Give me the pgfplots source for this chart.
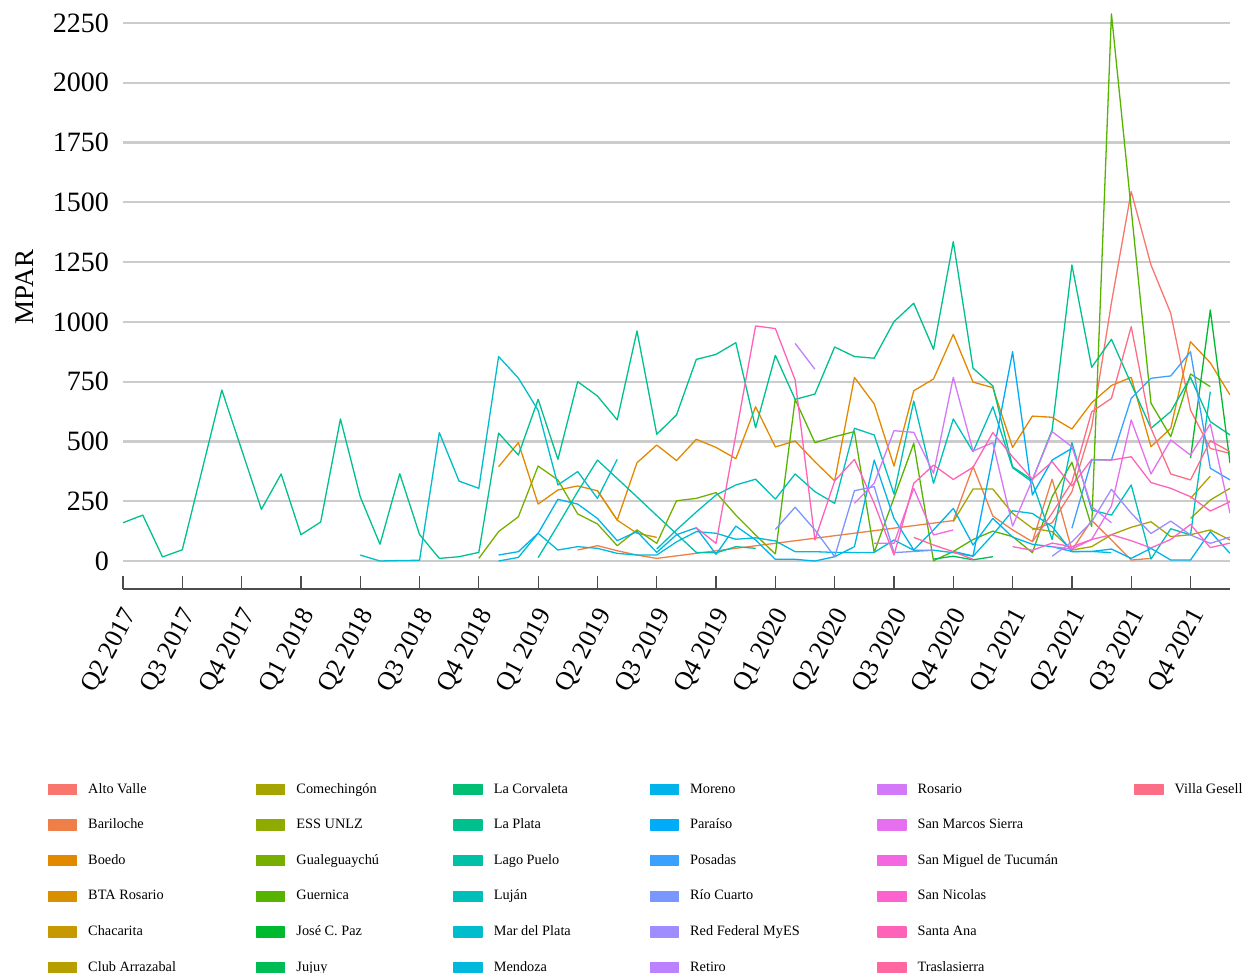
\documentclass[border=0pt]{standalone}
\usepackage{fontspec}
\setmainfont{Liberation Serif}
\usepackage{pgfplots}
\pgfplotsset{compat=1.18}
\definecolor{c0}{HTML}{F8766D}
\definecolor{c1}{HTML}{EF7F49}
\definecolor{c2}{HTML}{E38900}
\definecolor{c3}{HTML}{D89000}
\definecolor{c4}{HTML}{C69900}
\definecolor{c5}{HTML}{B79F00}
\definecolor{c6}{HTML}{A5A400}
\definecolor{c7}{HTML}{8FAA00}
\definecolor{c8}{HTML}{76AF00}
\definecolor{c9}{HTML}{56B400}
\definecolor{c10}{HTML}{00B92E}
\definecolor{c11}{HTML}{00BC55}
\definecolor{c12}{HTML}{00BE73}
\definecolor{c13}{HTML}{00C08D}
\definecolor{c14}{HTML}{00C0A6}
\definecolor{c15}{HTML}{00BFBA}
\definecolor{c16}{HTML}{00BDCC}
\definecolor{c17}{HTML}{00B9DD}
\definecolor{c18}{HTML}{00B3EB}
\definecolor{c19}{HTML}{00ABF7}
\definecolor{c20}{HTML}{3AA1FF}
\definecolor{c21}{HTML}{7997FF}
\definecolor{c22}{HTML}{9F8CFF}
\definecolor{c23}{HTML}{BC81FF}
\definecolor{c24}{HTML}{D478FA}
\definecolor{c25}{HTML}{E66FEF}
\definecolor{c26}{HTML}{F367E1}
\definecolor{c27}{HTML}{FD62CF}
\definecolor{c28}{HTML}{FF63B9}
\definecolor{c29}{HTML}{FF67A0}
\definecolor{c30}{HTML}{FB6E86}
\begin{document}
\begin{tikzpicture}
\begin{axis}[
 width=1107pt, height=578pt, scale only axis,
 xmin=0, xmax=56, ymin=-117.1, ymax=2300,
 axis x line=bottom, axis y line=left,
 axis line style={-},
 y axis line style={draw=none},
 x axis line style={draw=black!70, line width=1.2pt},
 xtick={0,3,...,54},
 xticklabels={Q2 2017,Q3 2017,Q4 2017,Q1 2018,Q2 2018,Q3 2018,Q4 2018,Q1 2019,Q2 2019,Q3 2019,Q4 2019,Q1 2020,Q2 2020,Q3 2020,Q4 2020,Q1 2021,Q2 2021,Q3 2021,Q4 2021},
 tick align=inside,
 xtick style={draw=black!70, line width=1.2pt},
 major tick length=13pt,
 ytick={0,250,...,2250},
 yticklabels={0,250,500,750,1000,1250,1500,1750,2000,2250},
 ytick style={draw=none},
 ymajorgrids,
 grid style={draw=black!20, line width=2.2pt},
 xticklabel style={font=\fontsize{26}{26}\selectfont, xshift=8pt, rotate=62, anchor=east, inner sep=0pt},
 xticklabel shift=22pt,
 yticklabel style={font=\fontsize{28}{28}\selectfont, anchor=east, inner sep=0pt},
 yticklabel shift=14pt,
 ylabel={MPAR},
 every axis y label/.style={at={(rel axis cs:-0.0885,0.5225)}, rotate=90, anchor=center, font=\fontsize{27}{27}\selectfont},
 every axis plot/.append style={line width=1.3pt, line join=round, no markers},
 legend columns=6,
 legend cell align=left,
 legend image code/.code={\fill[#1] (0pt,-5pt) rectangle (28pt,5pt);},
 legend style={at={(-0.0678,-0.3356)}, anchor=north west, draw=none, fill=none, inner sep=0pt, outer sep=0pt,
   font=\fontsize{14.3}{16}\selectfont, nodes={inner sep=0pt, text height=10pt, text depth=3pt}, row sep=22.6pt,
   /tikz/every odd column/.append style={column sep=11pt},
   /tikz/column 2/.append style={column sep=80.2pt},
   /tikz/column 4/.append style={column sep=74.4pt},
   /tikz/column 6/.append style={column sep=79pt},
   /tikz/column 8/.append style={column sep=77.5pt},
   /tikz/column 10/.append style={column sep=76.3pt}},
]
\coordinate (BL) at (rel axis cs:-0.1111,-0.6626);
\coordinate (TR) at (rel axis cs:1.0117,1.0190);
% Alto Valle
\addplot[c0, forget plot] coordinates {(46,130)(47,160)(48,290)(49,560)(50,1080)(51,1545)(52,1238)(53,1036)(54,631)(55,471)(56,450)};
% Bariloche
\addplot[c1, forget plot] coordinates {(23,46)(24,64)(25,43)(26,25)(27,11)(42,169)(43,395)(44,188)(45,130)(46,81)(47,342)(48,46)(49,170)(50,88)(51,4)(52,11)};
% Boedo
\addplot[c2, forget plot] coordinates {(19,394)(20,495)(21,238)(22,297)(23,314)(24,294)(25,171)(26,411)(27,485)(28,420)(29,509)(30,475)(31,428)(32,645)(33,477)(34,502)(35,415)(36,335)(37,768)(38,657)(39,397)(40,712)(41,761)(42,948)(43,748)(44,725)(45,475)(46,606)(47,601)(48,552)(49,662)(50,734)(51,768)(52,478)(53,555)(54,917)(55,829)(56,694)};
% BTA Rosario
\addplot[c3, forget plot] coordinates {(24,294)(25,171)(26,116)(27,99)};
% Club Arrazabal
\addplot[c5, forget plot] coordinates {(54,262)(55,355)};
% Comechingon
\addplot[c6, forget plot] coordinates {(42,165)(43,301)(44,301)(45,199)(46,137)(47,123)(48,46)(49,60)(50,110)(51,141)(52,164)(53,102)(54,110)(55,130)(56,88)};
% ESS UNLZ
\addplot[c7, forget plot] coordinates {(54,178)(55,255)(56,304)};
% Gualeguaychu
\addplot[c8, forget plot] coordinates {(18,11)(19,123)(20,185)(21,397)(22,339)(23,197)(24,155)(25,64)(26,130)(27,74)(28,252)(29,262)(30,286)(31,192)(32,109)(33,29)};
% Guernica
\addplot[c9, forget plot] coordinates {(33,29)(34,676)(35,495)(36,520)(37,541)(38,36)(39,264)(40,492)(41,1)(42,40)(43,90)(44,125)(45,102)(46,35)(47,269)(48,413)(49,144)(50,2288)(51,1470)(52,660)(53,520)(54,782)(55,729)};
% Jose C. Paz
\addplot[c10, forget plot] coordinates {(54,430)(55,1050)(56,409)};
% Jujuy
\addplot[c11, forget plot] coordinates {(41,8)(42,20)(43,5)(44,18)};
% La Plata
\addplot[c13, forget plot] coordinates {(0,160)(1,192)(2,17)(3,47)(4,380)(5,715)(6,466)(7,216)(8,364)(9,110)(10,163)(11,594)(12,269)(13,70)(14,365)(15,111)(16,11)(17,18)(18,36)(19,535)(20,443)(21,676)(22,425)(23,750)(24,690)(25,590)(26,962)(27,530)(28,611)(29,843)(30,864)(31,913)(32,557)(33,860)(34,676)(35,698)(36,895)(37,855)(38,848)(39,1001)(40,1078)(41,885)(42,1336)(43,806)(44,732)(45,394)(46,339)(47,548)(48,1238)(49,810)(50,927)(51,741)(52,555)(53,625)(54,768)(55,583)(56,527)};
% Lago Puelo
\addplot[c14, forget plot] coordinates {(21,14)(22,150)(23,290)(24,422)(25,345)(26,268)(27,190)(28,113)(29,36)(30,34)(31,60)(32,53)};
% Lujan
\addplot[c15, forget plot] coordinates {(27,50)(28,130)(29,205)(30,276)(31,318)(32,342)(33,259)(34,364)(35,290)(36,241)(37,555)(38,527)(39,280)(40,669)(41,325)(42,594)(43,457)(44,645)(45,390)(46,330)(47,90)(48,495)(49,213)(50,192)(51,318)(52,8)(53,135)(54,109)(55,708)};
% Mar del Plata
\addplot[c16, forget plot] coordinates {(12,25)(13,0)(14,2)(15,3)(16,537)(17,334)(18,304)(19,855)(20,765)(21,630)(22,318)(23,374)(24,262)(25,425)};
% Mendoza
\addplot[c17, forget plot] coordinates {(19,0)(20,15)(21,116)(22,46)(23,60)(24,53)(25,32)(26,25)(27,25)(28,80)(29,123)(30,116)(31,91)(32,97)(33,84)(34,39)(35,39)(36,36)(37,36)(38,36)(39,88)(40,45)(41,45)(42,35)(43,20)(44,110)(45,210)(46,199)(47,144)(48,39)(49,40)(50,35)};
% Moreno
\addplot[c18, forget plot] coordinates {(19,25)(20,39)(21,116)(22,258)(23,238)(24,178)(25,85)(26,123)(27,36)(28,110)(29,139)(30,28)(31,146)(32,88)(33,7)(34,7)(35,0)(36,18)(37,60)(38,422)(39,178)(40,46)(41,130)(42,220)(43,67)(44,178)(45,100)(46,70)(47,60)(48,40)(49,40)(50,50)(51,11)(52,53)(53,4)(54,4)(55,123)(56,32)};
% Paraiso
\addplot[c19, forget plot] coordinates {(42,40)(43,21)(44,440)(45,875)(46,276)(47,422)(48,471)};
% Posadas
\addplot[c20, forget plot] coordinates {(48,137)(49,422)(50,422)(51,680)(52,764)(53,774)(54,875)(55,388)(56,339)};
% Rio Cuarto
\addplot[c21, forget plot] coordinates {(33,132)(34,225)(35,130)(36,18)(37,294)(38,311)(39,35)(40,40)(41,45)};
% Red Federal MyES
\addplot[c22, forget plot] coordinates {(47,20)(48,80)(49,164)(50,300)(51,200)(52,115)(53,167)(54,109)(55,74)(56,100)};
% Retiro
\addplot[c23, forget plot] coordinates {(34,910)(35,802)};
% Rosario
\addplot[c24, forget plot] coordinates {(37,241)(38,325)(39,545)(40,538)(41,367)(42,768)(43,460)(44,495)(45,146)(46,339)(47,541)(48,478)(49,227)(50,160)};
% San Marcos Sierra
\addplot[c25, forget plot] coordinates {(47,60)(48,50)(49,90)(50,230)(51,590)(52,364)(53,506)(54,443)(55,573)(56,200)};
% San Miguel de Tucuman
\addplot[c26, forget plot] coordinates {(38,74)(39,74)(40,304)(41,109)(42,130)};
% San Nicolas
\addplot[c27, forget plot] coordinates {(45,60)(46,45)(47,75)(48,60)(49,90)(50,110)(51,85)(52,55)(53,90)(54,153)(55,56)(56,75)};
% Santa Ana
\addplot[c28, forget plot] coordinates {(29,139)(30,74)(31,528)(32,983)(33,972)(34,757)(35,88)(36,335)(37,425)(38,241)(39,25)(40,325)(41,401)(42,341)(43,392)(44,537)(45,436)(46,342)(47,415)(48,314)(49,425)(50,422)(51,436)(52,328)(53,304)(54,269)(55,209)(56,248)};
% Traslasierra
\addplot[c29, forget plot] coordinates {(40,99)(41,67)(42,39)(43,7)};
% Villa Gesell
\addplot[c30, forget plot] coordinates {(46,80)(47,200)(48,330)(49,624)(50,680)(51,980)(52,555)(53,364)(54,339)(55,503)(56,457)};
% legend (row-major order reproducing column-major layout)
\addlegendimage{c0}\addlegendentry{Alto Valle}
\addlegendimage{c6}\addlegendentry{Comechingón}
\addlegendimage{c12}\addlegendentry{La Corvaleta}
\addlegendimage{c18}\addlegendentry{Moreno}
\addlegendimage{c24}\addlegendentry{Rosario}
\addlegendimage{c30}\addlegendentry{Villa Gesell}
\addlegendimage{c1}\addlegendentry{Bariloche}
\addlegendimage{c7}\addlegendentry{ESS UNLZ}
\addlegendimage{c13}\addlegendentry{La Plata}
\addlegendimage{c19}\addlegendentry{Paraíso}
\addlegendimage{c25}\addlegendentry{San Marcos Sierra}
\addlegendimage{white}\addlegendentry{}
\addlegendimage{c2}\addlegendentry{Boedo}
\addlegendimage{c8}\addlegendentry{Gualeguaychú}
\addlegendimage{c14}\addlegendentry{Lago Puelo}
\addlegendimage{c20}\addlegendentry{Posadas}
\addlegendimage{c26}\addlegendentry{San Miguel de Tucumán}
\addlegendimage{white}\addlegendentry{}
\addlegendimage{c3}\addlegendentry{BTA Rosario}
\addlegendimage{c9}\addlegendentry{Guernica}
\addlegendimage{c15}\addlegendentry{Luján}
\addlegendimage{c21}\addlegendentry{Río Cuarto}
\addlegendimage{c27}\addlegendentry{San Nicolas}
\addlegendimage{white}\addlegendentry{}
\addlegendimage{c4}\addlegendentry{Chacarita}
\addlegendimage{c10}\addlegendentry{José C. Paz}
\addlegendimage{c16}\addlegendentry{Mar del Plata}
\addlegendimage{c22}\addlegendentry{Red Federal MyES}
\addlegendimage{c28}\addlegendentry{Santa Ana}
\addlegendimage{white}\addlegendentry{}
\addlegendimage{c5}\addlegendentry{Club Arrazabal}
\addlegendimage{c11}\addlegendentry{Jujuy}
\addlegendimage{c17}\addlegendentry{Mendoza}
\addlegendimage{c23}\addlegendentry{Retiro}
\addlegendimage{c29}\addlegendentry{Traslasierra}
\end{axis}
\pgfresetboundingbox
\path[use as bounding box] (BL) rectangle (TR);
\end{tikzpicture}
\end{document}
